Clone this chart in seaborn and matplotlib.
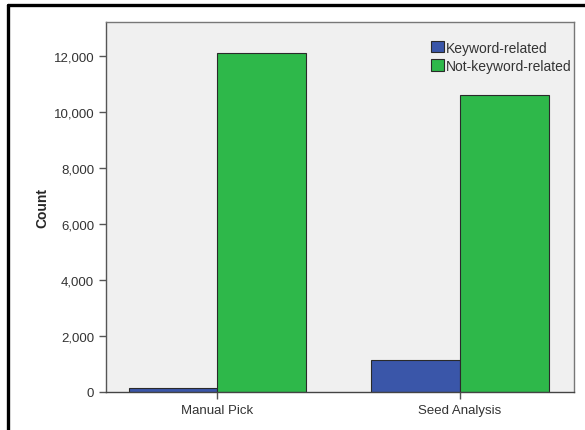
import pandas as pd
import numpy as np
import matplotlib
matplotlib.use("Agg")
import matplotlib.pyplot as plt
from matplotlib.lines import Line2D
from matplotlib.ticker import FuncFormatter
import seaborn as sns

# --- Data ---
methods = ["Manual Pick", "Seed Analysis"]
groups = ["Keyword-related", "Not-keyword-related"]
keyword_counts = [140, 1150]
not_keyword_counts = [12100, 10600]
yticks = [0, 2000, 4000, 6000, 8000, 10000, 12000]

df = pd.DataFrame({
    "method": methods * 2,
    "group": [groups[0]] * len(methods) + [groups[1]] * len(methods),
    "count": keyword_counts + not_keyword_counts,
})

palette = {"Keyword-related": "#3a56a9", "Not-keyword-related": "#2eb84a"}

sns.set_style("white")
plt.rcParams["font.family"] = ["Liberation Sans", "DejaVu Sans"]

fig = plt.figure(figsize=(5.85, 4.31), dpi=100)
ax = fig.add_axes([0.181, 0.0882, 0.800, 0.8584])
ax.set_facecolor("#f0f0f0")

sns.barplot(data=df, x="method", y="count", hue="group", order=methods,
            hue_order=groups, palette=palette, width=0.732, errorbar=None,
            edgecolor="#2a2a2a", linewidth=0.8, saturation=1, ax=ax)

ax.set_xlim(-0.46, 1.47)
ax.set_ylim(0, 13200)
ax.set_yticks(yticks)
ax.yaxis.set_major_formatter(FuncFormatter(lambda v, p: f"{int(v):,}"))
ax.set_xlabel("")
ax.set_ylabel("Count", fontsize=10, fontweight="bold", labelpad=3)

for s in ax.spines.values():
    s.set_color("#777777")
    s.set_linewidth(1.0)
ax.spines["left"].set_color("#555555")
ax.spines["bottom"].set_color("#444444")

ax.tick_params(axis="both", which="major", direction="out", length=5,
               width=1, color="#555555", labelsize=9.5, labelcolor="#333333",
               left=True, bottom=True)

ax.legend(loc="upper left", bbox_to_anchor=(0.695, 0.95), frameon=False,
          fontsize=10, borderpad=0, borderaxespad=0, handlelength=0.9,
          handleheight=0.9, handletextpad=0.15, labelspacing=0.3)
for t in ax.get_legend().get_texts():
    t.set_color("#333333")

# outer frame lines (top and left only, as in the screenshot)
fig.add_artist(Line2D([0.0145, 1.0], [0.987, 0.987], color="black", lw=2.4,
                      transform=fig.transFigure))
fig.add_artist(Line2D([0.0145, 0.0145], [0.0, 0.987], color="black", lw=2.4,
                      transform=fig.transFigure))

fig.savefig("out.png", dpi=100)
